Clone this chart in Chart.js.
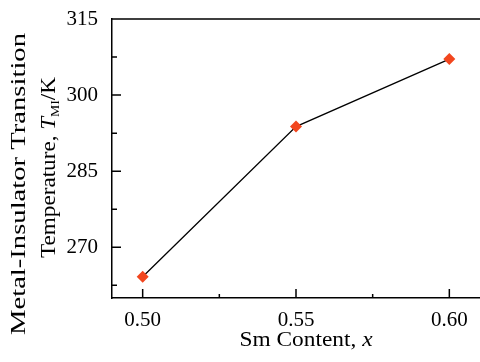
<!DOCTYPE html>
<html lang="en">
<head>
    <meta charset="UTF-8">
    <title>Metal-Insulator Transition Temperature</title>
    <script src="https://cdn.jsdelivr.net/npm/chart.js"></script>
    <style>
        html, body { margin: 0; padding: 0; background: #fff; overflow: hidden; }
        .chart-box { position: relative; width: 486px; height: 362px; }
    </style>
</head>
<body>
    <div class="chart-box">
        <canvas id="tmiChart"></canvas>
    </div>

    <script>
        // data
        const smContent = [0.50, 0.55, 0.60];
        const tmiValues = [264.2, 293.8, 307.1];
        const xTicks = [0.50, 0.55, 0.60];
        const xMinor = [0.525, 0.575];
        const yTicks = [270, 285, 300, 315];
        const yMinor = [262.5, 277.5, 292.5, 307.5];

        const FONT = '"Liberation Serif", "Times New Roman", serif';

        // inward ticks, top frame line and the rich-text axis titles
        const framePlugin = {
            id: 'frame',
            afterDraw(chart) {
                const ctx = chart.ctx;
                const area = chart.chartArea;
                const xs = chart.scales.x, ys = chart.scales.y;
                ctx.save();
                ctx.strokeStyle = '#000';
                ctx.lineWidth = 1.5;
                ctx.beginPath();
                ctx.moveTo(area.left, area.top);
                ctx.lineTo(area.right, area.top);
                yTicks.forEach(v => { const p = ys.getPixelForValue(v); ctx.moveTo(area.left, p); ctx.lineTo(area.left + 9, p); });
                yMinor.forEach(v => { const p = ys.getPixelForValue(v); ctx.moveTo(area.left, p); ctx.lineTo(area.left + 5, p); });
                xTicks.forEach(v => { const p = xs.getPixelForValue(v); ctx.moveTo(p, area.bottom); ctx.lineTo(p, area.bottom - 9); });
                xMinor.forEach(v => { const p = xs.getPixelForValue(v); ctx.moveTo(p, area.bottom); ctx.lineTo(p, area.bottom - 4); });
                ctx.stroke();

                ctx.fillStyle = '#000';
                ctx.textBaseline = 'alphabetic';
                ctx.textAlign = 'left';

                function drawRich(parts, cx, cy, rotate, targetLen) {
                    let w = 0;
                    parts.forEach(p => { ctx.font = p.font; w += ctx.measureText(p.text).width; });
                    const sx = targetLen ? targetLen / w : 1;
                    ctx.save();
                    ctx.translate(cx, cy);
                    if (rotate) ctx.rotate(-Math.PI / 2);
                    ctx.scale(sx, 1);
                    let x = -w / 2;
                    parts.forEach(p => {
                        ctx.font = p.font;
                        ctx.fillText(p.text, x, p.dy || 0);
                        x += ctx.measureText(p.text).width;
                    });
                    ctx.restore();
                }

                drawRich([{ text: 'Metal-Insulator Transition', font: '22px ' + FONT }], 25, 184, true, 302);
                drawRich([
                    { text: 'Temperature, ', font: '22px ' + FONT },
                    { text: 'T', font: 'italic 22px ' + FONT },
                    { text: 'MI', font: '13px ' + FONT, dy: 4 },
                    { text: '/K', font: '22px ' + FONT }
                ], 55, 167.5, true, 181);
                drawRich([
                    { text: 'Sm Content, ', font: '21px ' + FONT },
                    { text: 'x', font: 'italic 21px ' + FONT }
                ], 306, 346, false, 133);
                ctx.restore();
            }
        };

        const ctx = document.getElementById('tmiChart').getContext('2d');
        new Chart(ctx, {
            type: 'line',
            data: {
                datasets: [{
                    data: smContent.map((x, i) => ({ x: x, y: tmiValues[i] })),
                    borderColor: '#000',
                    borderWidth: 1.3,
                    pointStyle: 'rectRot',
                    pointRadius: 6,
                    pointBorderWidth: 0,
                    pointBackgroundColor: '#f2461e',
                    pointBorderColor: '#f2461e',
                    tension: 0
                }]
            },
            options: {
                responsive: true,
                maintainAspectRatio: false,
                animation: false,
                layout: { padding: { top: 19, left: 0, right: 0, bottom: 0 } },
                plugins: {
                    legend: { display: false },
                    tooltip: { enabled: false }
                },
                scales: {
                    x: {
                        type: 'linear',
                        min: 0.49,
                        max: 0.61,
                        afterBuildTicks: s => { s.ticks = xTicks.map(v => ({ value: v })); },
                        afterFit: s => { s.height = 64; s.paddingLeft = 0; s.paddingRight = 0; },
                        grid: { display: false, drawTicks: false },
                        border: { display: true, color: '#000', width: 1.5 },
                        ticks: {
                            color: '#000',
                            padding: 10,
                            maxRotation: 0,
                            font: { family: FONT, size: 21 },
                            callback: v => v.toFixed(2)
                        }
                    },
                    y: {
                        min: 260,
                        max: 315,
                        afterBuildTicks: s => { s.ticks = yTicks.map(v => ({ value: v })); },
                        afterFit: s => { s.width = 112; s.paddingTop = 0; s.paddingBottom = 0; },
                        grid: { display: false, drawTicks: false },
                        border: { display: true, color: '#000', width: 1.5 },
                        ticks: {
                            color: '#000',
                            padding: 14,
                            font: { family: FONT, size: 21 }
                        }
                    }
                }
            },
            plugins: [framePlugin]
        });
    </script>
</body>
</html>
